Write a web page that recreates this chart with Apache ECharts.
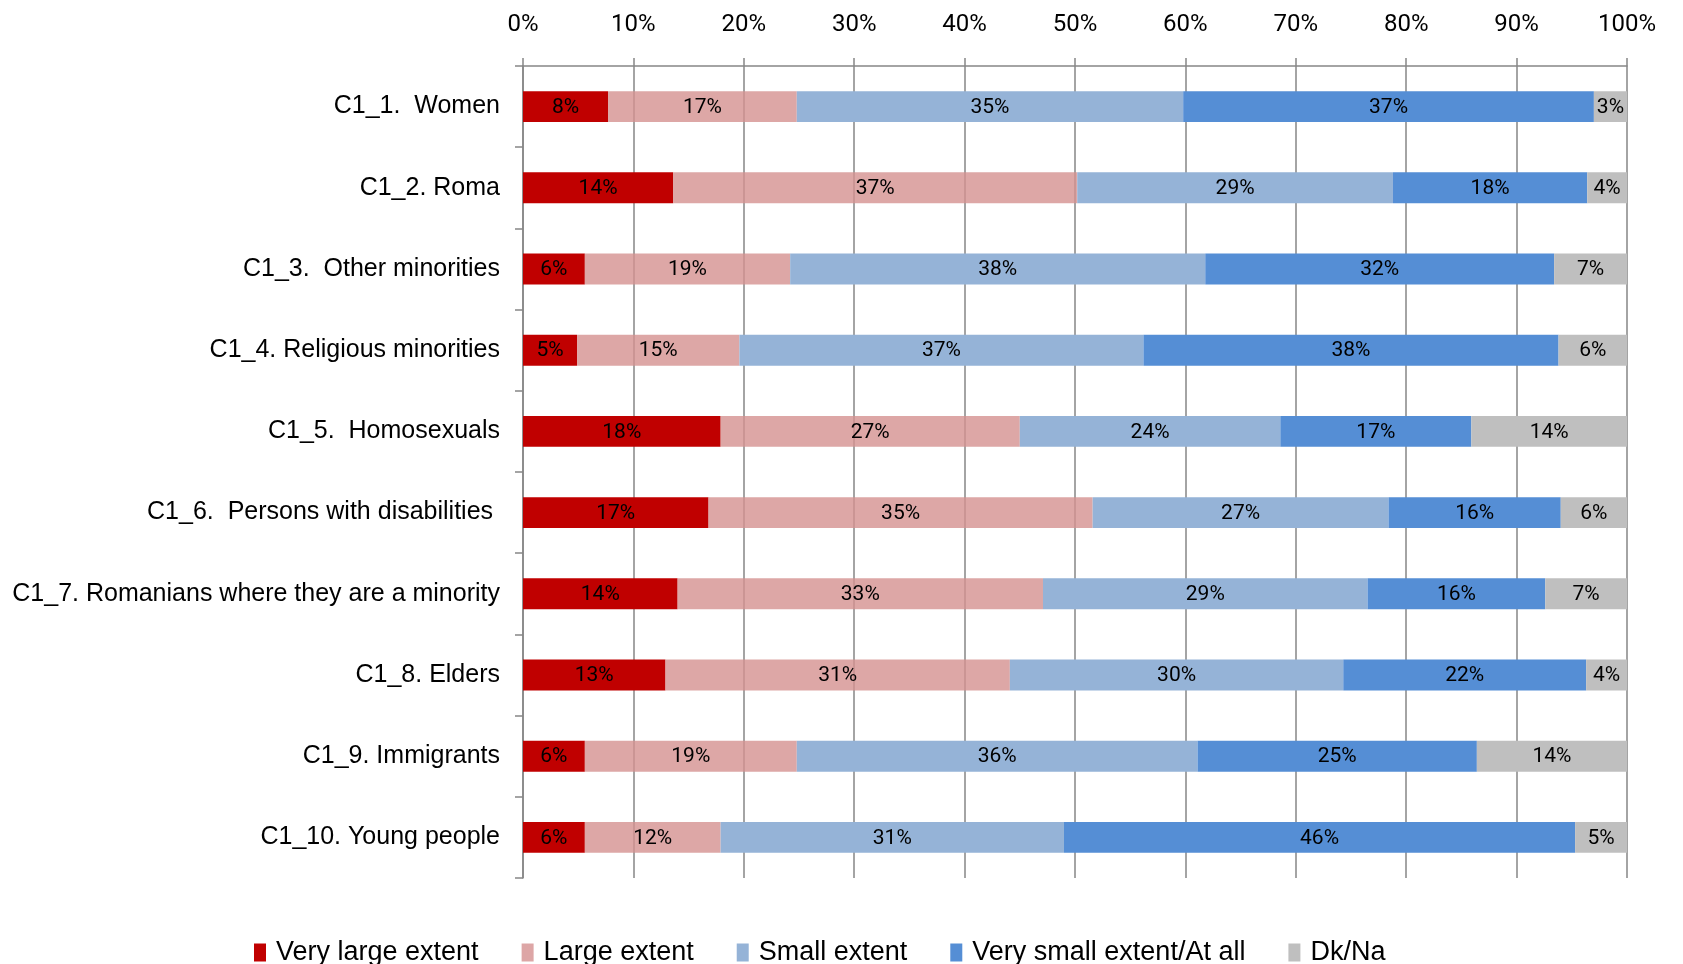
<!DOCTYPE html>
<html>
<head>
<meta charset="utf-8">
<script src="https://cdn.jsdelivr.net/npm/echarts@6/dist/echarts.min.js"></script>
<style>
html,body{margin:0;padding:0;background:#fff;}
#chart{width:1683px;height:964px;}
</style>
</head>
<body>
<div id="chart"></div>
<script>
const categories = [
  'C1_1.  Women',
  'C1_2. Roma',
  'C1_3.  Other minorities',
  'C1_4. Religious minorities',
  'C1_5.  Homosexuals',
  'C1_6.  Persons with disabilities ',
  'C1_7. Romanians where they are a minority',
  'C1_8. Elders',
  'C1_9. Immigrants',
  'C1_10. Young people'
];
const seriesNames = ['Very large extent', 'Large extent', 'Small extent', 'Very small extent/At all', 'Dk/Na'];
const veryLarge = [7.7, 13.6, 5.6, 4.9, 17.9, 16.8, 14.0, 12.9, 5.6, 5.6];
const large     = [17.1, 36.6, 18.6, 14.7, 27.1, 34.8, 33.1, 31.2, 19.2, 12.3];
const small     = [35.0, 28.6, 37.6, 36.6, 23.6, 26.8, 29.4, 30.2, 36.3, 31.1];
const verySmall = [37.2, 17.6, 31.6, 37.6, 17.3, 15.6, 16.1, 22.0, 25.3, 46.3];
const dkNa      = [3.0, 3.6, 6.6, 6.2, 14.1, 6.0, 7.4, 3.7, 13.6, 4.7];
const tickValues = [0, 10, 20, 30, 40, 50, 60, 70, 80, 90, 100];

const colors = ['#C00000', 'rgba(212,145,144,0.8)', '#95B3D7', '#558ED5', '#BFBFBF'];
const allData = [veryLarge, large, small, verySmall, dkNa];
const numFont = "Roboto, 'Liberation Sans', sans-serif";
const sans = "'Liberation Sans', Arial, sans-serif";
const gray = '#868686';

const chart = echarts.init(document.getElementById('chart'), null, {renderer: 'canvas'});
chart.setOption({
  animation: false,
  backgroundColor: '#ffffff',
  color: colors,
  grid: {left: 523, right: 56, top: 66, bottom: 86, containLabel: false},
  legend: {
    data: seriesNames.map((n, i) => ({name: n, icon: 'rect', itemStyle: {color: i === 1 ? '#DDA6A6' : colors[i]}})),
    left: 254,
    top: 939,
    padding: 0,
    itemWidth: 12,
    itemHeight: 18,
    itemGap: 43,
    textStyle: {fontFamily: sans, fontSize: 27, color: '#000', padding: [0, 0, 0, 5]}
  },
  xAxis: {
    type: 'value',
    position: 'top',
    min: tickValues[0],
    max: tickValues[tickValues.length - 1],
    interval: 10,
    axisLine: {show: true, lineStyle: {color: gray, width: 1.5}},
    axisTick: {show: true, length: 8, lineStyle: {color: gray, width: 1.5}},
    splitLine: {show: true, lineStyle: {color: gray, width: 1.5}},
    axisLabel: {formatter: '{value}%', fontFamily: numFont, fontSize: 24, color: '#000', margin: 29}
  },
  yAxis: {
    type: 'category',
    data: categories,
    inverse: true,
    axisLine: {show: true, lineStyle: {color: gray, width: 1.5}},
    axisTick: {show: true, length: 8, lineStyle: {color: gray, width: 1.5}},
    axisLabel: {fontFamily: sans, fontSize: 25, color: '#000', margin: 23}
  },
  series: seriesNames.map((name, i) => ({
    name: name,
    type: 'bar',
    stack: 'total',
    barWidth: '38%',
    data: allData[i],
    itemStyle: {color: colors[i]},
    label: {
      show: true,
      position: 'inside',
      offset: [0, 1],
      formatter: p => Math.round(p.value) + '%',
      fontFamily: numFont,
      fontSize: 21,
      color: '#000'
    }
  }))
});
</script>
</body>
</html>
